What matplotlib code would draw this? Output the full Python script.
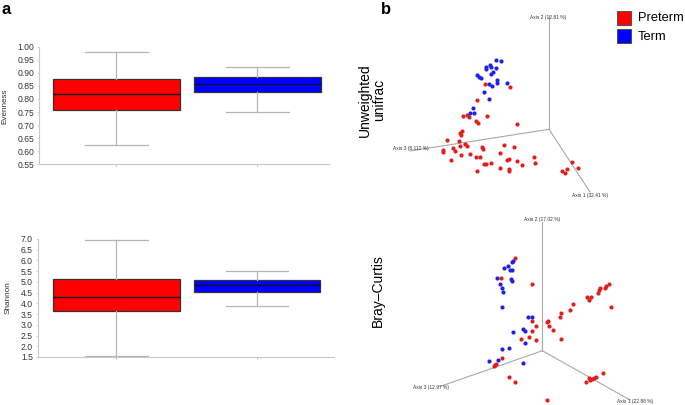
import matplotlib
matplotlib.use("Agg")
import matplotlib.pyplot as plt
from matplotlib.patches import Rectangle
import numpy as np

plt.rcParams['font.family'] = ['Liberation Sans', 'DejaVu Sans']

# ---------------- data ----------------
groups = ["Preterm", "Term"]
group_colors = ["#FF0000", "#0000FF"]

# Evenness box statistics (whislo, q1, med, q3, whishi)
evenness_preterm = [0.625, 0.759, 0.820, 0.875, 0.978]
evenness_term = [0.751, 0.828, 0.856, 0.885, 0.921]
evenness_ticks = [0.55, 0.60, 0.65, 0.70, 0.75, 0.80, 0.85, 0.90, 0.95, 1.00]

# Shannon box statistics (whislo, q1, med, q3, whishi)
shannon_preterm = [1.56, 3.64, 4.31, 5.12, 6.97]
shannon_term = [3.86, 4.52, 4.87, 5.07, 5.52]
shannon_ticks = [1.5, 2.0, 2.5, 3.0, 3.5, 4.0, 4.5, 5.0, 5.5, 6.0, 6.5, 7.0]

# Unweighted unifrac PCoA, projected coordinates (as drawn)
uw_term_x = [495.7, 500.7, 490.0, 486.0, 485.7, 491.3, 496.3, 492.7, 491.0, 477.3, 479.0,
             480.7, 496.7, 496.7, 489.0, 492.0, 507.3, 484.3, 489.3, 472.7, 470.0, 474.3]
uw_term_y = [60.3, 61.0, 64.7, 67.3, 69.3, 66.7, 68.3, 72.0, 73.7, 74.7, 76.7,
             78.3, 80.0, 83.3, 84.3, 86.0, 82.7, 91.7, 99.0, 108.3, 112.7, 113.0]
uw_pre_x = [485.3, 510.3, 476.7, 462.7, 467.3, 469.0, 487.0, 476.3, 477.7, 517.0, 461.7,
            460.0, 461.0, 447.3, 459.3, 464.7, 467.0, 460.3, 452.7, 442.7, 443.3, 455.3,
            482.0, 482.7, 504.3, 514.0, 461.0, 469.7, 475.7, 480.3, 500.3, 451.0, 506.7,
            508.7, 517.0, 491.0, 484.3, 485.7, 500.0, 509.3, 508.7, 476.7, 533.7, 522.3,
            535.0, 572.0, 578.3, 567.3, 562.0, 565.3]
uw_pre_y = [83.7, 87.3, 100.3, 115.7, 115.0, 117.0, 116.0, 120.7, 122.7, 124.0, 131.3,
            133.3, 135.3, 140.0, 141.3, 144.3, 146.0, 146.0, 148.3, 150.0, 152.0, 151.3,
            147.3, 148.7, 145.0, 146.7, 154.7, 154.3, 156.7, 157.3, 152.7, 159.7, 160.0,
            159.3, 160.7, 163.3, 164.0, 164.0, 167.7, 169.0, 170.7, 170.7, 157.0, 164.7,
            163.3, 162.3, 168.3, 169.3, 171.3, 173.3]

# Bray-Curtis PCoA, projected coordinates (as drawn)
bc_term_x = [512.7, 511.7, 508.0, 504.3, 510.3, 512.0, 497.0, 510.7, 511.7, 499.7, 502.3,
             503.3, 502.0, 528.3, 532.0, 522.7, 524.7, 512.7, 525.3, 508.7, 502.0, 498.3,
             489.3, 523.0]
bc_term_y = [261.0, 262.0, 265.7, 267.7, 270.3, 270.3, 278.0, 278.7, 280.7, 284.3, 287.7,
             291.7, 306.7, 317.0, 317.0, 329.3, 331.0, 332.3, 343.0, 347.7, 348.7, 360.3,
             361.0, 363.3]
bc_pre_x = [515.0, 501.0, 532.0, 532.3, 546.7, 548.3, 548.7, 536.0, 532.3, 553.3, 529.0,
            521.0, 536.3, 502.3, 495.0, 493.7, 495.7, 509.0, 514.7, 547.0, 608.7, 606.0,
            604.7, 599.7, 598.7, 597.7, 586.7, 590.7, 589.3, 610.7, 573.3, 570.0, 561.0,
            559.7, 561.3, 603.0, 589.3, 591.7, 594.0, 596.0, 590.0, 586.0]
bc_pre_y = [258.3, 278.0, 284.3, 321.0, 322.3, 321.3, 326.3, 326.3, 330.7, 330.3, 336.7,
            339.0, 340.0, 358.3, 365.0, 366.3, 364.3, 376.7, 382.0, 399.7, 284.3, 286.0,
            288.3, 287.7, 290.0, 292.7, 297.0, 296.7, 300.3, 306.7, 303.7, 310.0, 313.3,
            316.7, 338.7, 373.3, 378.0, 379.3, 378.0, 377.3, 380.0, 382.0]

# ---------------- figure ----------------
W, H = 685, 405
fig = plt.figure(figsize=(W / 100, H / 100), dpi=100)

def px_axes(left, right, top, bottom):
    return fig.add_axes([left / W, 1 - bottom / H, (right - left) / W, (bottom - top) / H])

def stats(v):
    return dict(whislo=v[0], q1=v[1], med=v[2], q3=v[3], whishi=v[4], fliers=[])

def box_panel(ax, pre, term, ticks, ylabel, xlim, fmt):
    bp = ax.bxp([stats(pre), stats(term)], positions=[1, 2], widths=0.9,
                capwidths=0.445, patch_artist=True, showfliers=False,
                medianprops=dict(color="#111111", lw=1.0),
                whiskerprops=dict(color="#b5b5b5", lw=0.9),
                capprops=dict(color="#b5b5b5", lw=0.9),
                boxprops=dict(edgecolor="#333333", lw=0.9))
    for patch, c in zip(bp['boxes'], group_colors):
        patch.set_facecolor(c)
    ax.set_xlim(*xlim)
    ax.set_ylim(ticks[0], ticks[-1])
    ax.set_yticks(ticks)
    ax.set_yticklabels([fmt.format(t) for t in ticks])
    ax.set_xticks([1, 2])
    ax.set_xticklabels([])
    for s in ["top", "right"]:
        ax.spines[s].set_visible(False)
    for s in ["left", "bottom"]:
        ax.spines[s].set_color("#c8c8c8")
        ax.spines[s].set_linewidth(0.8)
    ax.tick_params(axis="y", length=1.5, width=0.5, color="#c8c8c8", labelsize=6.2,
                   labelcolor="#333333", pad=2)
    ax.tick_params(axis="x", length=1.5, width=0.5, color="#999999")
    ax.set_ylabel(ylabel, fontsize=5.9, color="#333333")

ax1 = px_axes(39.3, 329, 46.7, 164.3)
box_panel(ax1, evenness_preterm, evenness_term, evenness_ticks, "Evenness",
          (0.454, 2.508), "{:.2f}")
ax1.yaxis.set_label_coords(-0.108, 0.49)

ax2 = px_axes(37.7, 334, 239, 357)
box_panel(ax2, shannon_preterm, shannon_term, shannon_ticks, "Shannon",
          (0.441, 2.547), "{:.1f}")
ax2.yaxis.set_label_coords(-0.087, 0.5)

# ---------------- panel b (projected 3D PCoA) ----------------
axb = fig.add_axes([0, 0, 1, 1], zorder=-1)
axb.set_xlim(0, W)
axb.set_ylim(H, 0)
axb.axis("off")

axis_col = "#a8a8a8"
# top: unweighted unifrac axes
o1 = (549.0, 129.3)
for end in [(549.0, 15.5), (410.0, 151.0), (590.0, 192.0)]:
    axb.plot([o1[0], end[0]], [o1[1], end[1]], color=axis_col, lw=0.8)
axb.text(548, 17.3, "Axis 2 (12.81 %)", fontsize=3.5, ha="center", va="center", color="#333333")
axb.text(411, 148.3, "Axis 3 (8.112 %)", fontsize=3.5, ha="center", va="center", color="#333333")
axb.text(590, 195.0, "Axis 1 (32.41 %)", fontsize=3.5, ha="center", va="center", color="#333333")

# bottom: Bray-Curtis axes
o2 = (542.3, 350.7)
for end in [(542.3, 222.0), (440.0, 386.5), (630.0, 400.0)]:
    axb.plot([o2[0], end[0]], [o2[1], end[1]], color=axis_col, lw=0.8)
axb.text(542.5, 220.0, "Axis 2 (17.02 %)", fontsize=3.5, ha="center", va="center", color="#333333")
axb.text(431, 387.7, "Axis 3 (12.97 %)", fontsize=3.5, ha="center", va="center", color="#333333")
axb.text(635, 401.7, "Axis 1 (22.88 %)", fontsize=3.5, ha="center", va="center", color="#333333")

red_pt = "#E01E1E"
blue_pt = "#2020E6"
axb.scatter(uw_pre_x, uw_pre_y, s=9, color=red_pt, linewidths=0, zorder=3)
axb.scatter(uw_term_x, uw_term_y, s=9, color=blue_pt, linewidths=0, zorder=3)
axb.scatter(bc_pre_x, bc_pre_y, s=9, color=red_pt, linewidths=0, zorder=3)
axb.scatter(bc_term_x, bc_term_y, s=9, color=blue_pt, linewidths=0, zorder=3)

axb.text(372, 100, "Unweighted\nunifrac", rotation=90, fontsize=10, ha="center",
         va="center", linespacing=1.0)
axb.text(377.5, 291, "Bray\u2013Curtis", rotation=90, fontsize=10, ha="center", va="center")

# legend
for i, (g, c) in enumerate(zip(groups, group_colors)):
    y0 = 10.7 + i * 18.6
    axb.add_patch(Rectangle((617, y0), 14, 14, facecolor=c, edgecolor="#444444", lw=0.6))
    axb.text(638, y0 + 7.2, g, fontsize=9.3, ha="left", va="center")

# panel letters
axb.text(1, 2, "a", fontsize=12, fontweight="bold", ha="left", va="top")
axb.text(381, 2, "b", fontsize=12, fontweight="bold", ha="left", va="top")

fig.savefig("out.png", dpi=100)
